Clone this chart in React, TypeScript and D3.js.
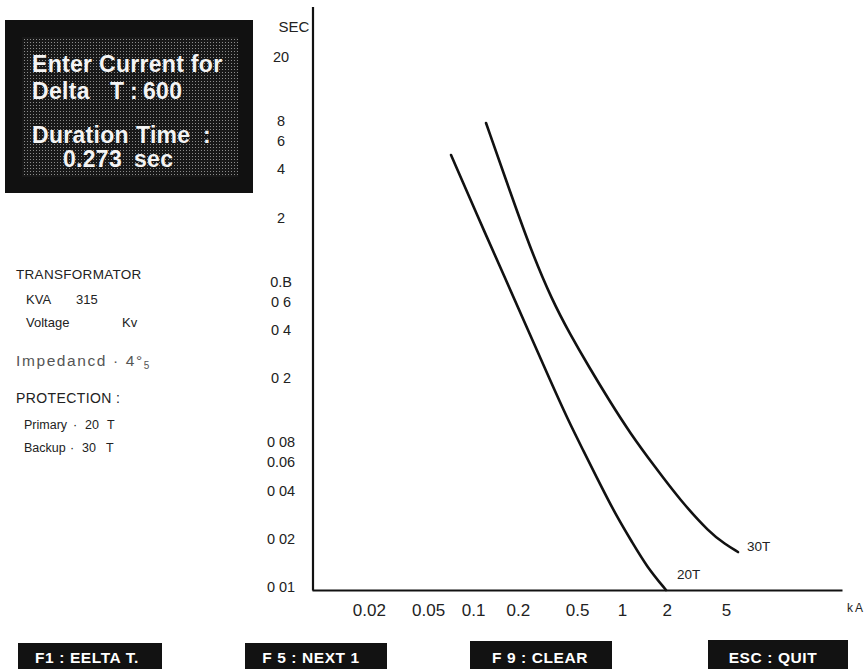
import React, { useEffect, useRef } from 'react';
import * as d3 from 'd3';

// y axis (seconds, log) – labels kept as printed on the scan
const yTickValues = [20, 8, 6, 4, 2, 0.8, 0.6, 0.4, 0.2, 0.08, 0.06, 0.04, 0.02, 0.01];
const yTickLabels = ['20', '8', '6', '4', '2', '0.B', '0 6', '0 4', '0 2', '0 08', '0.06', '0 04', '0 02', '0 01'];

// x axis (kA, log)
const xTickValues = [0.02, 0.05, 0.1, 0.2, 0.5, 1, 2, 5];
const xTickLabels = ['0.02', '0.05', '0.1', '0.2', '0.5', '1', '2', '5'];

// fuse curves: current (kA) vs time (sec)
const fuse20Current = [0.0712, 0.1064, 0.1665, 0.2339, 0.3287, 0.4342, 0.5475, 0.712, 0.926, 1.168, 1.472, 1.975];
const fuse20Time = [4.91, 2.077, 0.818, 0.3993, 0.195, 0.1099, 0.0715, 0.0439, 0.02734, 0.0191, 0.01335, 0.0096];
const fuse30Current = [0.1223, 0.1856, 0.245, 0.3391, 0.4477, 0.6008, 0.8183, 1.132, 1.666, 2.452, 3.899, 4.917, 6.009];
const fuse30Time = [7.765, 2.575, 1.257, 0.6138, 0.377, 0.2349, 0.1464, 0.0912, 0.056, 0.0349, 0.02174, 0.01856, 0.01655];

const buttons = ['F1 : EELTA T.', 'F 5 : NEXT 1', 'F 9 : CLEAR', 'ESC : QUIT'];

const W = 867;
const H = 669;
const FONT = '"Liberation Sans", Arial, sans-serif';

const App: React.FC = () => {
  const xAxisRef = useRef<SVGGElement | null>(null);
  const yAxisRef = useRef<SVGGElement | null>(null);

  const x = d3.scaleLog().domain([0.0083, 30]).range([312, 842]);
  const y = d3.scaleLog().domain([0.0096, 41.3]).range([590, 6.5]);

  // basis curve smooths out the small reading errors in the traced points
  const line = d3
    .line<[number, number]>()
    .x((d) => x(d[0]))
    .y((d) => y(d[1]))
    .curve(d3.curveBasis);

  const path20 = line(fuse20Current.map((c, i) => [c, fuse20Time[i]] as [number, number])) || '';
  const path30 = line(fuse30Current.map((c, i) => [c, fuse30Time[i]] as [number, number])) || '';

  useEffect(() => {
    if (!xAxisRef.current || !yAxisRef.current) return;
    const gx = d3.select(xAxisRef.current);
    gx.selectAll('*').remove();
    gx.call(
      d3
        .axisBottom(x)
        .tickValues(xTickValues)
        .tickSize(0)
        .tickPadding(14)
        .tickFormat((_d, i) => xTickLabels[i])
    );
    gx.attr('font-family', FONT).attr('font-size', 17);
    gx.select('.domain').attr('stroke', '#111').attr('stroke-width', 2.2);
    gx.selectAll('text').attr('fill', '#222');

    const gy = d3.select(yAxisRef.current);
    gy.selectAll('*').remove();
    gy.call(
      d3
        .axisLeft(y)
        .tickValues(yTickValues)
        .tickSize(0)
        .tickFormat((_d, i) => yTickLabels[i])
    );
    gy.attr('font-family', FONT).attr('font-size', 14.5);
    gy.select('.domain').attr('stroke', '#111').attr('stroke-width', 2.2);
    gy.selectAll('text').attr('fill', '#222').attr('text-anchor', 'middle').attr('x', -31.5);
  }, []);

  const boxX = [18, 245, 470, 708];
  const boxW = [144, 142, 142, 140];
  const boxTop = [643, 643, 641, 640];
  const textMid = [87, 311, 540, 773];

  return (
    <svg
      width={W}
      height={H}
      style={{ position: 'absolute', left: 0, top: 0, background: '#fff' }}
      fontFamily={FONT}
    >
      <defs>
        <pattern id="dither" width={3} height={3} patternUnits="userSpaceOnUse">
          <rect width={3} height={3} fill="#181818" />
          <rect width={1} height={1} fill="#8c8c8c" />
        </pattern>
      </defs>

      {/* status box */}
      <rect x={5} y={20} width={248} height={173} fill="#111" />
      <rect x={22} y={37} width={216} height={140} fill="url(#dither)" />
      <g fill="#f4f4f4" fontWeight="bold" fontSize={23} letterSpacing={0.3}>
        <text x={32} y={72}>Enter Current for</text>
        <text x={32} y={99}>Delta</text>
        <text x={110} y={99}>T</text>
        <text x={130} y={99}>:</text>
        <text x={143} y={99}>600</text>
        <text x={32} y={143}>Duration</text>
        <text x={136} y={143}>Time</text>
        <text x={203} y={143}>:</text>
        <text x={63} y={167}>0.273</text>
        <text x={134} y={167}>sec</text>
      </g>

      {/* transformer info */}
      <g fill="#222">
        <text x={16} y={279} fontSize={13.5} letterSpacing={0.3}>TRANSFORMATOR</text>
        <text x={26} y={304} fontSize={13}>KVA</text>
        <text x={76} y={304} fontSize={13}>315</text>
        <text x={26} y={327} fontSize={13}>Voltage</text>
        <text x={122} y={327} fontSize={13}>Kv</text>
        <text x={16} y={366} fontSize={15.5} letterSpacing={1.6} fill="#555">
          {'Impedancd · 4°'}
          <tspan fontSize={10} dy={3}>5</tspan>
        </text>
        <text x={16} y={403} fontSize={14} letterSpacing={0.4}>PROTECTION :</text>
        <text x={24} y={429} fontSize={12.5}>Primary</text>
        <text x={73} y={429} fontSize={12.5}>·</text>
        <text x={85} y={429} fontSize={12.5}>20</text>
        <text x={107} y={429} fontSize={12.5}>T</text>
        <text x={24} y={452} fontSize={12.5}>Backup</text>
        <text x={70} y={452} fontSize={12.5}>·</text>
        <text x={82} y={452} fontSize={12.5}>30</text>
        <text x={106} y={452} fontSize={12.5}>T</text>
      </g>

      {/* axes */}
      <g ref={xAxisRef} transform="translate(0,590)" />
      <g ref={yAxisRef} transform="translate(312.5,0)" />
      <text x={294} y={32} fontSize={15} fill="#222" textAnchor="middle">SEC</text>
      <text x={847} y={612} fontSize={12} fill="#222" letterSpacing={2}>kA</text>

      {/* fuse curves */}
      <path d={path20} fill="none" stroke="#111" strokeWidth={2.6} strokeLinecap="round" />
      <path d={path30} fill="none" stroke="#111" strokeWidth={2.6} strokeLinecap="round" />
      <text x={677} y={579} fontSize={13.5} fill="#222">20T</text>
      <text x={747} y={551} fontSize={13.5} fill="#222">30T</text>

      {/* function key buttons */}
      {buttons.map((b, i) => (
        <g key={b}>
          <rect x={boxX[i]} y={boxTop[i]} width={boxW[i]} height={H - boxTop[i]} fill="#121212" />
          <text
            x={textMid[i]}
            y={663}
            fill="#fff"
            fontWeight="bold"
            fontSize={15.5}
            letterSpacing={0.6}
            textAnchor="middle"
            xmlSpace="preserve"
          >
            {b}
          </text>
        </g>
      ))}
    </svg>
  );
};

export default App;
